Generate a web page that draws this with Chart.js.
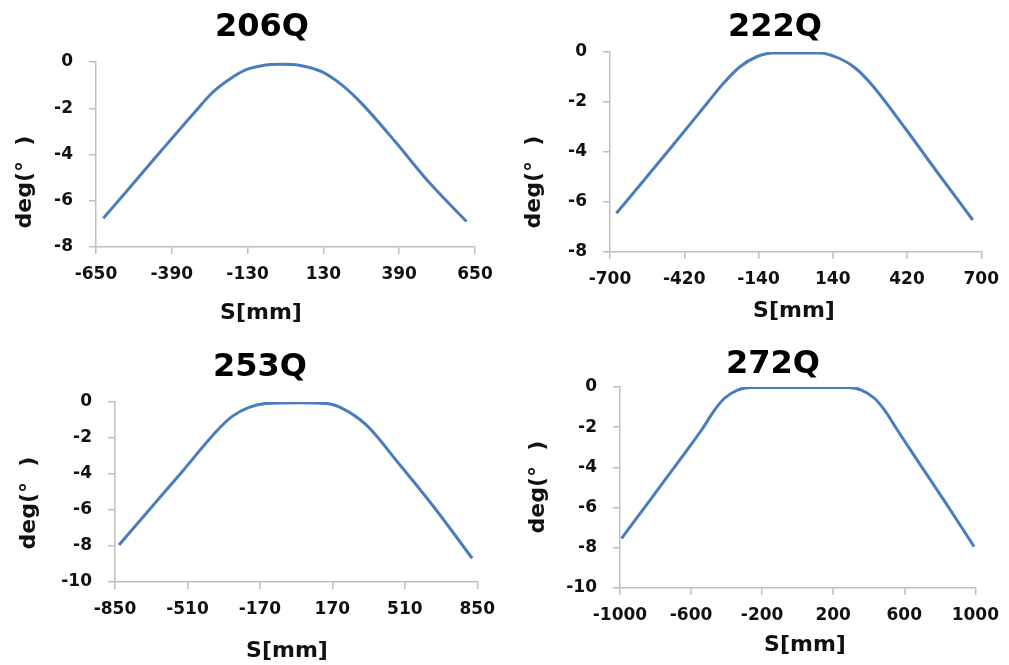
<!DOCTYPE html>
<html>
<head>
<meta charset="utf-8">
<script src="https://cdn.jsdelivr.net/npm/chart.js@4.4.1/dist/chart.umd.min.js"></script>
<style>
  html, body { margin: 0; padding: 0; background: #ffffff; overflow: hidden; }
  body { width: 1009px; height: 665px; position: relative; }
  .panel { position: absolute; }
</style>
</head>
<body>
<div class="panel" style="left:0px;top:0px;width:505px;height:324px;"><canvas id="c1"></canvas></div>
<div class="panel" style="left:505px;top:0px;width:504px;height:324px;"><canvas id="c2"></canvas></div>
<div class="panel" style="left:0px;top:330px;width:505px;height:335px;"><canvas id="c3"></canvas></div>
<div class="panel" style="left:505px;top:330px;width:504px;height:335px;"><canvas id="c4"></canvas></div>
<script>
// ---- Titles ----
const titles = ["206Q", "222Q", "253Q", "272Q"];
const xAxisTitle = "S[mm]";
const yAxisTitle = "deg(°  )";

// ---- X tick labels ----
const xTicks206 = [-650, -390, -130, 130, 390, 650];
const xTicks222 = [-700, -420, -140, 140, 420, 700];
const xTicks253 = [-850, -510, -170, 170, 510, 850];
const xTicks272 = [-1000, -600, -200, 200, 600, 1000];

// ---- Y ranges ----
const yMin206 = -8, yMin222 = -8, yMin253 = -10, yMin272 = -10;
const yMax = 0;
const yStep = 2;

// ---- Series: S [mm] and deg ----
const s206 = [-625, -539, -425, -310, -253, -196, -139, -82, -13, 55, 124, 193, 261, 376, 490, 621];
const d206 = [-6.76, -5.5, -3.82, -2.15, -1.35, -0.78, -0.35, -0.16, -0.1, -0.16, -0.42, -0.99, -1.79, -3.44, -5.17, -6.9];

const s222 = [-676, -583, -459, -334, -272, -210, -147, -85, 89, 164, 226, 288, 413, 537, 668];
const d222 = [-6.45, -5.27, -3.68, -2.05, -1.25, -0.59, -0.19, -0.04, -0.04, -0.25, -0.65, -1.32, -3.05, -4.85, -6.72];

const s253 = [-831, -690, -535, -376, -300, -221, -141, 14, 141, 216, 329, 484, 641, 826];
const d253 = [-7.94, -6.0, -3.87, -1.65, -0.8, -0.3, -0.08, -0.04, -0.08, -0.35, -1.27, -3.45, -5.75, -8.68];

const s272 = [-991, -816, -633, -541, -467, -412, -339, -265, 286, 359, 432, 488, 561, 653, 836, 993];
const d272 = [-7.53, -5.45, -3.26, -2.14, -1.14, -0.56, -0.15, -0.02, -0.02, -0.15, -0.56, -1.14, -2.14, -3.38, -5.8, -7.94];

// ---- Styling / layout (not data) ----
const FONT = "'DejaVu Sans', Verdana, sans-serif";
const LINE_COLOR = "#4a7dbd";
const AXIS_COLOR = "#bfbfbf";

// Re-centres the chart title and axis titles where the original figure has them.
const shiftPlugin = {
  id: 'shift',
  afterLayout(chart, args, o) {
    const tb = chart.titleBlock;
    if (tb) {
      const h = (tb.right - tb.left) / 2;
      tb.left = o.titleX - h;
      tb.right = o.titleX + h;
    }
    const xs = chart.scales.x, ys = chart.scales.y;
    if (xs && !xs.$shifted) {
      const d = xs.drawTitle;
      xs.drawTitle = function () {
        const l = this.left, r = this.right, h = (r - l) / 2;
        this.left = o.xTitleX - h; this.right = o.xTitleX + h;
        d.call(this);
        this.left = l; this.right = r;
      };
      xs.$shifted = true;
    }
    if (ys && !ys.$shifted) {
      const d = ys.drawTitle;
      ys.drawTitle = function () {
        const t = this.top, b = this.bottom, h = (b - t) / 2;
        this.top = o.yTitleY - h; this.bottom = o.yTitleY + h;
        d.call(this);
        this.top = t; this.bottom = b;
      };
      ys.$shifted = true;
    }
  }
};

function makeChart(canvasId, title, xs, ys, xTicks, yMin, L) {
  const pts = xs.map((x, i) => ({ x: x, y: ys[i] }));
  return new Chart(document.getElementById(canvasId), {
    type: 'line',
    data: {
      datasets: [{
        data: pts,
        borderColor: LINE_COLOR,
        borderWidth: 3,
        pointRadius: 0,
        fill: false,
        cubicInterpolationMode: 'monotone'
      }]
    },
    plugins: [shiftPlugin],
    options: {
      responsive: true,
      maintainAspectRatio: false,
      animation: false,
      events: [],
      layout: { padding: { left: 0, top: 0, right: L.rightPad, bottom: 0 } },
      plugins: {
        legend: { display: false },
        tooltip: { enabled: false },
        shift: { titleX: L.titleX, xTitleX: L.xTitleX, yTitleY: L.yTitleY },
        title: {
          display: true,
          text: title,
          color: '#000',
          font: { family: FONT, size: 32, weight: 'bold', lineHeight: 1.2 },
          padding: { top: L.tTop, bottom: L.tBot }
        }
      },
      scales: {
        x: {
          type: 'linear',
          min: xTicks[0],
          max: xTicks[xTicks.length - 1],
          afterBuildTicks: (sc) => { sc.ticks = xTicks.map(v => ({ value: v })); },
          afterFit: (sc) => { sc.height = L.xH; },
          grid: { display: true, drawOnChartArea: false, drawTicks: true, tickLength: 7, color: AXIS_COLOR, lineWidth: 1.5 },
          border: { display: true, color: AXIS_COLOR, width: 1.5 },
          ticks: {
            color: '#111',
            padding: 10,
            maxRotation: 0,
            autoSkip: false,
            font: { family: FONT, size: 17, weight: 'bold' },
            callback: (v) => String(v)
          },
          title: {
            display: true,
            text: xAxisTitle,
            color: '#111',
            font: { family: FONT, size: 22, weight: 'bold', lineHeight: 1 },
            padding: { top: 0, bottom: L.xtBot }
          }
        },
        y: {
          type: 'linear',
          min: yMin,
          max: yMax,
          ticks: {
            stepSize: yStep,
            color: '#111',
            padding: 16,
            font: { family: FONT, size: 17, weight: 'bold' },
            callback: (v) => String(v)
          },
          afterFit: (sc) => { sc.width = L.yW; },
          grid: { display: true, drawOnChartArea: false, drawTicks: true, tickLength: 7, color: AXIS_COLOR, lineWidth: 1.5 },
          border: { display: true, color: AXIS_COLOR, width: 1.5 },
          title: {
            display: true,
            text: yAxisTitle,
            color: '#111',
            font: { family: FONT, size: 22, weight: 'bold', lineHeight: 1 },
            padding: { top: L.ytTop, bottom: 0 }
          }
        }
      }
    }
  });
}

makeChart('c1', titles[0], s206, d206, xTicks206, yMin206,
  { rightPad: 30, titleX: 262, tTop: 8.8, tBot: 14.8, xH: 77, xTitleX: 261, xtBot: 0, yW: 96, ytTop: 14, yTitleY: 182 });
makeChart('c2', titles[1], s222, d222, xTicks222, yMin222,
  { rightPad: 24, titleX: 270, tTop: 8.8, tBot: 4.8, xH: 72, xTitleX: 289, xtBot: 2, yW: 105, ytTop: 18, yTitleY: 182 });
makeChart('c3', titles[2], s253, d253, xTicks253, yMin253,
  { rightPad: 27, titleX: 260, tTop: 18.8, tBot: 14.8, xH: 83, xTitleX: 287, xtBot: 3, yW: 115, ytTop: 18, yTitleY: 173 });
makeChart('c4', titles[3], s272, d272, xTicks272, yMin272,
  { rightPad: 26, titleX: 268, tTop: 15.3, tBot: 3.3, xH: 77, xTitleX: 300, xtBot: 9, yW: 115, ytTop: 22, yTitleY: 157 });
</script>
</body>
</html>
